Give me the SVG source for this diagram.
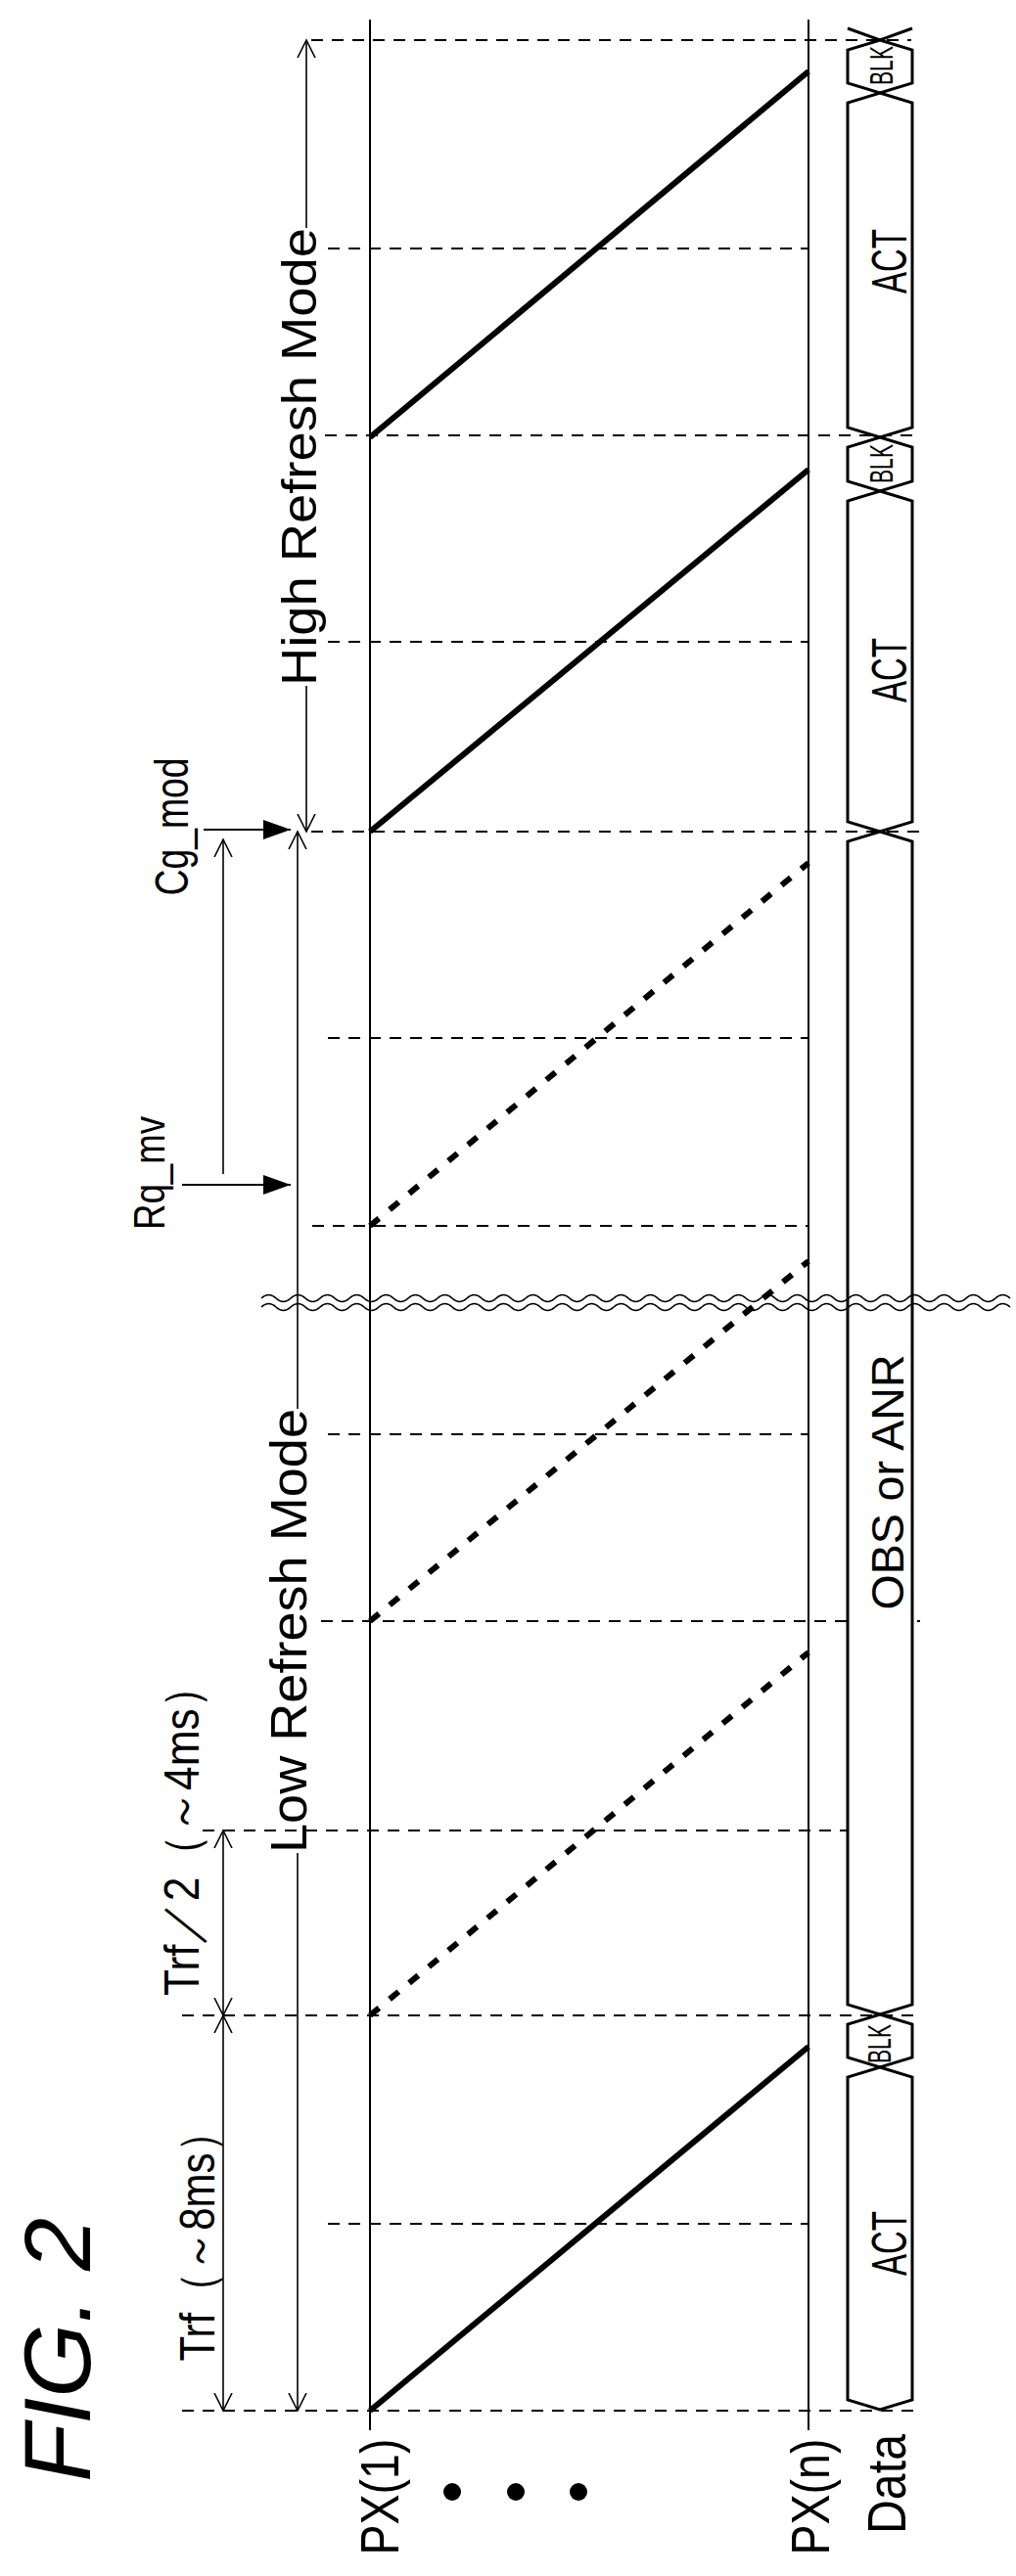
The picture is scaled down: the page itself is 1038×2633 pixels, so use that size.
<svg xmlns="http://www.w3.org/2000/svg" width="1038" height="2633" viewBox="0 0 1038 2633">
<style>
.t{font-family:"Liberation Sans",Arial,sans-serif;fill:#000}
.dl{stroke:#000;stroke-width:2;stroke-dasharray:12 9;fill:none}
.ln{stroke:#000;stroke-width:2;fill:none}
.th{stroke:#000;stroke-width:1.6;fill:none}
.rs{stroke:#000;stroke-width:6;fill:none}
.rd{stroke:#000;stroke-width:6;stroke-dasharray:12 14;fill:none}
.bus{stroke:#000;stroke-width:3;fill:#fff;stroke-linejoin:miter}
</style>
<defs>
<marker id="oa" markerWidth="20" markerHeight="20" refX="18" refY="10" orient="auto" markerUnits="userSpaceOnUse">
<path d="M0,1 L18,10 L0,19" fill="none" stroke="#000" stroke-width="1.6"/>
</marker>
<marker id="fa" markerWidth="30" markerHeight="24" refX="28" refY="12" orient="auto" markerUnits="userSpaceOnUse">
<path d="M0,2 L28,12 L0,22 Z" fill="#000"/>
</marker>
</defs>

<g id="gridlines">
<line class="dl" x1="318" y1="41" x2="931" y2="41"/>
<line class="dl" x1="335" y1="254" x2="826" y2="254"/>
<line class="dl" x1="332" y1="445" x2="940" y2="445"/>
<line class="dl" x1="335" y1="656" x2="826" y2="656"/>
<line class="dl" x1="318" y1="850" x2="940" y2="850"/>
<line class="dl" x1="335" y1="1061" x2="826" y2="1061"/>
<line class="dl" x1="319" y1="1253" x2="826" y2="1253"/>
<line class="dl" x1="335" y1="1466" x2="826" y2="1466"/>
<line class="dl" x1="328" y1="1657" x2="940" y2="1657"/>
<line class="dl" x1="207" y1="1871" x2="868" y2="1871"/>
<line class="dl" x1="186" y1="2060" x2="942" y2="2060"/>
<line class="dl" x1="335" y1="2273" x2="826" y2="2273"/>
<line class="dl" x1="186" y1="2464" x2="942" y2="2464"/>
</g>

<g id="px1"><line class="ln" x1="378" y1="20" x2="378" y2="2484"/>
<text class="t" font-size="56" text-anchor="middle" textLength="119" lengthAdjust="spacingAndGlyphs" transform="translate(407,2552) rotate(-90)">PX(1)</text></g>
<g id="pxn"><line class="ln" x1="826" y1="20" x2="826" y2="2484"/>
<text class="t" font-size="56" text-anchor="middle" textLength="119" lengthAdjust="spacingAndGlyphs" transform="translate(847,2552) rotate(-90)">PX(n)</text></g>
<g id="dots"><circle cx="462" cy="2547" r="9"/><circle cx="527" cy="2547" r="9"/><circle cx="591" cy="2547" r="9"/></g>

<g id="ramps">
<line class="rs" x1="378" y1="2464" x2="826" y2="2092"/>
<line class="rs" x1="378" y1="850" x2="826" y2="480"/>
<line class="rs" x1="378" y1="447" x2="826" y2="73"/>
<line class="rd" x1="378" y1="2060" x2="826" y2="1689"/>
<line class="rd" x1="378" y1="1657" x2="826" y2="1289"/>
<line class="rd" x1="378" y1="1253" x2="826" y2="882"/>
</g>

<g id="data">
<path class="bus" d="M866,29 L899,41 L932,29"/>
<path class="bus" d="M899,41 L932,51 L932,85 L899,95 L866,85 L866,51 Z"/>
<path class="bus" d="M899,95 L932,105 L932,437 L899,447 L866,437 L866,105 Z"/>
<path class="bus" d="M899,447 L932,457 L932,492 L899,502 L866,492 L866,457 Z"/>
<path class="bus" d="M899,502 L932,512 L932,840 L899,850 L866,840 L866,512 Z"/>
<path class="bus" d="M899,850 L932,860 L932,2049 L899,2059 L866,2049 L866,860 Z"/>
<path class="bus" d="M899,2059 L932,2069 L932,2103 L899,2113 L866,2103 L866,2069 Z"/>
<path class="bus" d="M899,2113 L932,2123 L932,2453 L899,2463 L866,2453 L866,2123 Z"/>
<text class="t" font-size="34" text-anchor="middle" textLength="40" lengthAdjust="spacingAndGlyphs" transform="translate(912,67) rotate(-90)">BLK</text>
<text class="t" font-size="50" text-anchor="middle" textLength="66" lengthAdjust="spacingAndGlyphs" transform="translate(926,267) rotate(-90)">ACT</text>
<text class="t" font-size="34" text-anchor="middle" textLength="40" lengthAdjust="spacingAndGlyphs" transform="translate(912,474) rotate(-90)">BLK</text>
<text class="t" font-size="50" text-anchor="middle" textLength="66" lengthAdjust="spacingAndGlyphs" transform="translate(926,685) rotate(-90)">ACT</text>
<text class="t" font-size="46" text-anchor="middle" textLength="261" lengthAdjust="spacingAndGlyphs" transform="translate(923,1515) rotate(-90)">OBS or ANR</text>
<text class="t" font-size="34" text-anchor="middle" textLength="40" lengthAdjust="spacingAndGlyphs" transform="translate(910,2089) rotate(-90)">BLK</text>
<text class="t" font-size="50" text-anchor="middle" textLength="66" lengthAdjust="spacingAndGlyphs" transform="translate(926,2293) rotate(-90)">ACT</text>
<text class="t" font-size="56" text-anchor="middle" textLength="102" lengthAdjust="spacingAndGlyphs" transform="translate(925,2539) rotate(-90)">Data</text>
</g>

<g id="break">
<path class="th" d="M267,1327 q7.5,-7 15,0 t15,0 t15,0 t15,0 t15,0 t15,0 t15,0 t15,0 t15,0 t15,0 t15,0 t15,0 t15,0 t15,0 t15,0 t15,0 t15,0 t15,0 t15,0 t15,0 t15,0 t15,0 t15,0 t15,0 t15,0 t15,0 t15,0 t15,0 t15,0 t15,0 t15,0 t15,0 t15,0 t15,0 t15,0 t15,0 t15,0 t15,0 t15,0 t15,0 t15,0 t15,0 t15,0 t15,0 t15,0 t15,0 t15,0 t15,0 t15,0 t15,0 t15,0"/>
<path class="th" d="M267,1336 q7.5,-7 15,0 t15,0 t15,0 t15,0 t15,0 t15,0 t15,0 t15,0 t15,0 t15,0 t15,0 t15,0 t15,0 t15,0 t15,0 t15,0 t15,0 t15,0 t15,0 t15,0 t15,0 t15,0 t15,0 t15,0 t15,0 t15,0 t15,0 t15,0 t15,0 t15,0 t15,0 t15,0 t15,0 t15,0 t15,0 t15,0 t15,0 t15,0 t15,0 t15,0 t15,0 t15,0 t15,0 t15,0 t15,0 t15,0 t15,0 t15,0 t15,0 t15,0 t15,0"/>
</g>

<g id="connectors">
<line class="th" x1="313" y1="233" x2="313" y2="41" marker-end="url(#oa)"/>
<line class="th" x1="313" y1="701" x2="313" y2="850" marker-end="url(#oa)"/>
<line class="th" x1="304" y1="1440" x2="304" y2="850" marker-end="url(#oa)"/>
<line class="th" x1="304" y1="1894" x2="304" y2="2464" marker-end="url(#oa)"/>
<line class="th" x1="228" y1="2264" x2="228" y2="2060" marker-end="url(#oa)"/>
<line class="th" x1="228" y1="2264" x2="228" y2="2464" marker-end="url(#oa)"/>
<line class="th" x1="228" y1="1960" x2="228" y2="1871" marker-end="url(#oa)"/>
<line class="th" x1="228" y1="1960" x2="228" y2="2060" marker-end="url(#oa)"/>
<line class="th" x1="228" y1="1200" x2="228" y2="858" marker-end="url(#oa)"/>
<line class="ln" x1="208" y1="848" x2="297" y2="848" stroke-width="3" marker-end="url(#fa)"/>
<line class="ln" x1="186" y1="1211" x2="297" y2="1211" stroke-width="3" marker-end="url(#fa)"/>
</g>

<g id="labels">
<text class="t" font-size="50" text-anchor="middle" textLength="468" lengthAdjust="spacingAndGlyphs" transform="translate(323,467) rotate(-90)">High Refresh Mode</text>
<text class="t" font-size="52" text-anchor="middle" textLength="454" lengthAdjust="spacingAndGlyphs" transform="translate(313,1667) rotate(-90)">Low Refresh Mode</text>
<text class="t" font-size="50" text-anchor="middle" textLength="255" lengthAdjust="spacingAndGlyphs" transform="translate(219,2286) rotate(-90)">Trf（～8ms）</text>
<text class="t" font-size="50" text-anchor="middle" textLength="338" lengthAdjust="spacingAndGlyphs" transform="translate(203,1871) rotate(-90)">Trf／2（～4ms）</text>
<text class="t" font-size="48" text-anchor="middle" textLength="141" lengthAdjust="spacingAndGlyphs" transform="translate(192,845) rotate(-90)">Cg_mod</text>
<text class="t" font-size="44" text-anchor="middle" textLength="116" lengthAdjust="spacingAndGlyphs" transform="translate(168,1199) rotate(-90)">Rq_mv</text>
<text class="t" font-size="96" font-style="italic" text-anchor="middle" textLength="270" lengthAdjust="spacingAndGlyphs" transform="translate(92,2402) rotate(-90)">FIG. 2</text>
</g>
</svg>
